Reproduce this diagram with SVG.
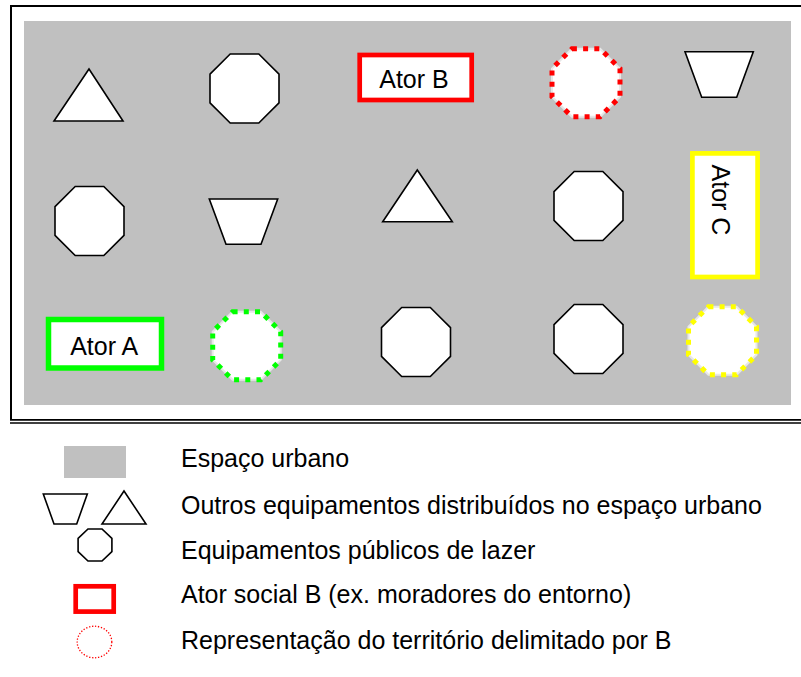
<svg xmlns="http://www.w3.org/2000/svg" xmlns:xlink="http://www.w3.org/1999/xlink" width="801" height="677" viewBox="0 0 801 677">
<style>
.shape{fill:#fff;stroke:#000;stroke-width:1.6;stroke-linejoin:miter}
.lbl{font-family:"Liberation Sans",Arial,sans-serif;font-size:25px;fill:#000}
.under{fill:#fff;stroke:#e8e8e8;stroke-width:2}
.dots{fill:none;stroke-width:5;stroke-dasharray:5 6.2}
.frame{stroke:#000;fill:none}
</style>
<defs>
<polygon id="oct" points="-14.3,-34.5 14.3,-34.5 34.5,-14.3 34.5,14.3 14.3,34.5 -14.3,34.5 -34.5,14.3 -34.5,-14.3"/>
<polygon id="doct" points="-14.1,-34 14.1,-34 34,-14.1 34,14.1 14.1,34 -14.1,34 -34,14.1 -34,-14.1"/>
</defs>
<rect width="801" height="677" fill="#fff"/>
<g id="frame">
<line class="frame" x1="10" y1="6" x2="801" y2="6" stroke-width="2"/>
<line class="frame" x1="11" y1="5" x2="11" y2="419" stroke-width="2"/>
<line class="frame" x1="10" y1="419.8" x2="801" y2="419.8" stroke-width="1.8"/>
<line class="frame" x1="10" y1="423" x2="801" y2="423" stroke-width="1.4"/>
</g>
<rect id="urban-space" x="24" y="21" width="767" height="384" fill="#C0C0C0"/>
<g id="connectors"/>
<g id="tri-1"><polygon class="shape" points="89,69 54,121 123,121"/></g>
<g id="oct-1"><use xlink:href="#oct" class="shape" transform="translate(244.5,88.5)"/></g>
<g id="ator-b">
<rect x="359.7" y="55" width="112" height="45" fill="#fff" stroke="#FF0000" stroke-width="4.7"/>
<text class="lbl" x="414" y="88.3" text-anchor="middle">Ator B</text>
</g>
<g id="territory-b">
<use xlink:href="#doct" class="under" transform="translate(586,82.7)"/>
<use xlink:href="#doct" class="dots" stroke="#FF0000" transform="translate(586,82.7)"/>
</g>
<g id="trap-1"><polygon class="shape" points="685,51.7 753.3,51.7 736.7,97.3 701.7,97.3"/></g>
<g id="oct-2"><use xlink:href="#oct" class="shape" transform="translate(89.5,221)"/></g>
<g id="trap-2"><polygon class="shape" points="209.3,199 277.7,199 261,244.3 226,244.3"/></g>
<g id="tri-2"><polygon class="shape" points="417.3,170 382.7,221.7 452.3,221.7"/></g>
<g id="oct-3"><use xlink:href="#oct" class="shape" transform="translate(588.5,206)"/></g>
<g id="ator-c">
<rect x="692.4" y="153.4" width="65.2" height="123.6" fill="#fff" stroke="#FFFF00" stroke-width="4.7"/>
<text class="lbl" transform="translate(712,200) rotate(90)" text-anchor="middle">Ator C</text>
</g>
<g id="ator-a">
<rect x="48.5" y="319.5" width="113" height="48.5" fill="#fff" stroke="#00FF00" stroke-width="5.5"/>
<text class="lbl" x="104.2" y="355" text-anchor="middle">Ator A</text>
</g>
<g id="territory-a">
<use xlink:href="#doct" class="under" transform="translate(246.7,345.8)"/>
<use xlink:href="#doct" class="dots" stroke="#00FF00" transform="translate(246.7,345.8)"/>
</g>
<g id="oct-4"><use xlink:href="#oct" class="shape" transform="translate(416,342)"/></g>
<g id="oct-5"><use xlink:href="#oct" class="shape" transform="translate(588.5,339)"/></g>
<g id="territory-c">
<use xlink:href="#doct" class="under" transform="translate(722.5,340.7)"/>
<use xlink:href="#doct" class="dots" stroke="#FFFF00" transform="translate(722.5,340.7)"/>
</g>
<g id="legend">
<rect x="64" y="446" width="62" height="32" fill="#C0C0C0"/>
<text class="lbl" x="181" y="467">Espaço urbano</text>
<polygon class="shape" points="43.3,494 87.3,494 76.7,524 54,524"/>
<polygon class="shape" points="124,491 102,524 146,524"/>
<text class="lbl" x="181" y="514">Outros equipamentos distribuídos no espaço urbano</text>
<use xlink:href="#oct" class="shape" transform="translate(95,545) scale(0.49,0.465)" style="stroke-width:3.3"/>
<text class="lbl" x="181" y="559">Equipamentos públicos de lazer</text>
<rect x="75.7" y="586.3" width="38" height="25.3" fill="#fff" stroke="#FF0000" stroke-width="4.7"/>
<text class="lbl" x="181" y="603">Ator social B (ex. moradores do entorno)</text>
<ellipse cx="94.5" cy="642" rx="17.3" ry="15.8" fill="#fff" stroke="#FF0000" stroke-width="1.3" stroke-dasharray="1.3 1.7"/>
<text class="lbl" x="181" y="649">Representação do território delimitado por B</text>
</g>
</svg>
